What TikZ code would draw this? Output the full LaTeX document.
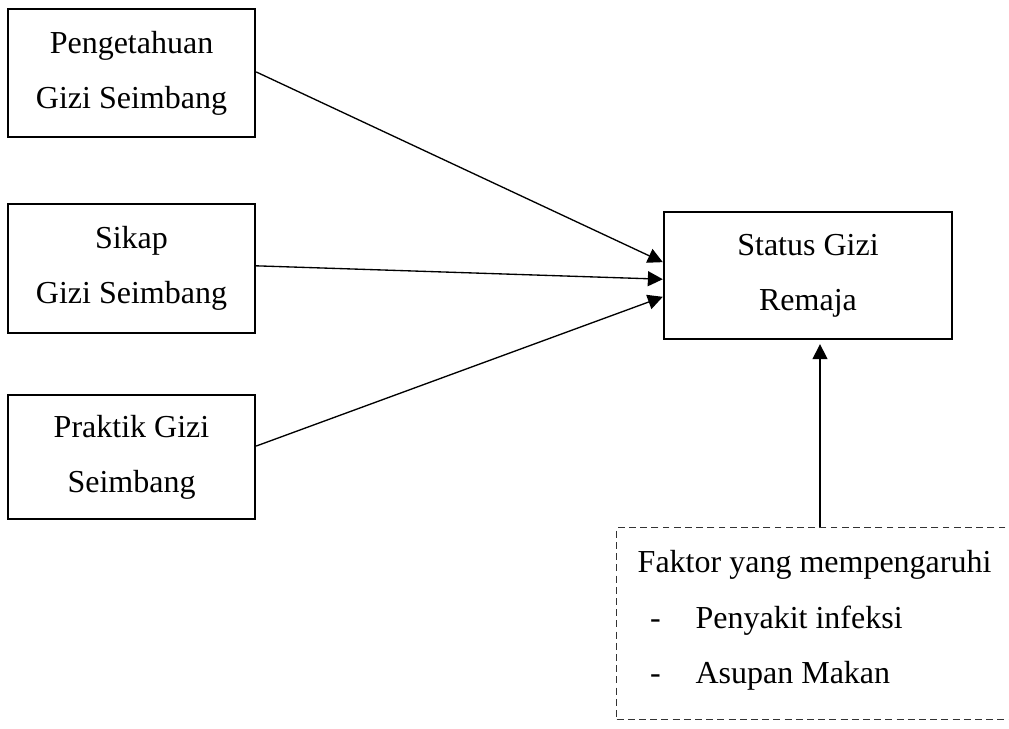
\documentclass[tikz,border=0pt]{standalone}
\usepackage{fontspec}
\setmainfont{Liberation Serif}
\usepackage{tikz}
\usetikzlibrary{arrows.meta}

\tikzset{
    kotak/.style={draw, line width=0.9pt, align=center, inner sep=0pt,
        minimum width=92.6pt, font=\fontsize{12pt}{20.7pt}\selectfont},
    kotakputus/.style={draw=black!80, line width=0.5pt,
        dash pattern=on 2.6pt off 1.6pt, align=left, anchor=north west,
        inner xsep=7.9pt, inner ysep=7.5pt,
        minimum height=72pt, font=\fontsize{12pt}{20.7pt}\selectfont},
    panah/.style={line width=0.5pt, -{Triangle[length=5.6pt,width=5.6pt]}}
}

\begin{document}
\begin{tikzpicture}[x=0.375pt,y=-0.375pt]
        % Page frame
        \useasboundingbox (0,0) rectangle (1009,729);

        % Left boxes
        \node [kotak, minimum height=48pt] (pengetahuan) at (131.5,73)
            {Pengetahuan\\Gizi Seimbang};
        \node [kotak, minimum height=48.4pt] (sikap) at (131.5,268.5)
            {Sikap\\Gizi Seimbang};
        \node [kotak, minimum height=46.5pt] (praktik) at (131.5,457)
            {Praktik Gizi\\Seimbang};

        % Right box
        \node [kotak, minimum width=108pt, minimum height=47.6pt] (status)
            at (808,275.5) {Status Gizi\\Remaja};

        % Factor box (its right side runs off the page)
        \node [kotakputus] (faktor) at (616,527)
            {\makebox[145pt][l]{Faktor yang mempengaruhi}\\
             \makebox[21.7pt][l]{\hspace{4.6pt}-}Penyakit infeksi\\
             \makebox[21.7pt][l]{\hspace{4.6pt}-}Asupan Makan\rule[-5pt]{0pt}{0pt}};

        % Arrows
        \draw [panah] ([yshift=0.4pt]pengetahuan.east) -- ([yshift=5pt]status.west);
        \draw [panah] ([yshift=1pt]sikap.east) -- ([yshift=-1.4pt]status.west);
        \draw [panah] ([yshift=4.1pt]praktik.east) -- ([yshift=-8pt]status.west);
        \draw [panah] ([xshift=4.5pt]status.south |- faktor.north)
            -- ([xshift=4.5pt,yshift=-1.5pt]status.south);

    \end{tikzpicture}
\end{document}
